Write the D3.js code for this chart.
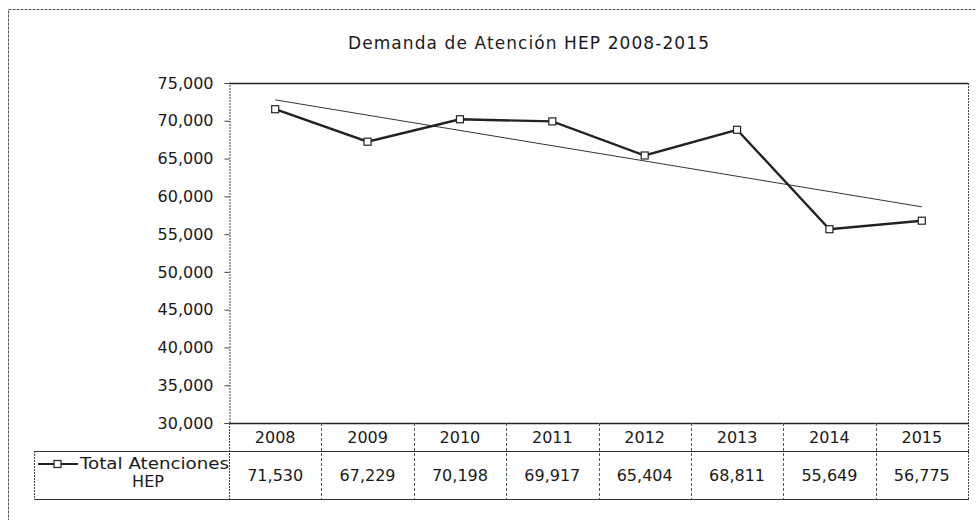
<!DOCTYPE html>
<html>
<head>
<meta charset="utf-8">
<script src="https://cdn.jsdelivr.net/npm/d3@7"></script>
<style>
	body { margin: 0; background: #fff; }
	svg text { font-family: "DejaVu Sans", "Open Sans", sans-serif; fill: #1a1a1a; }
</style>
</head>
<body>
<svg id="chart" width="976" height="520"></svg>
<script>
'use strict';

// data
var years = ['2008', '2009', '2010', '2011', '2012', '2013', '2014', '2015'],
	totals = [71530, 67229, 70198, 69917, 65404, 68811, 55649, 56775],
	yTicks = [30000, 35000, 40000, 45000, 50000, 55000, 60000, 65000, 70000, 75000],
	seriesName = ['Total Atenciones', 'HEP'],
	title = 'Demanda de Atención HEP 2008-2015';

var svg = d3.select('#chart'),
	plot = { left: 229, right: 968, top: 83, bottom: 423 },
	rowHead = 451,
	rowEnd = 499,
	legendLeft = 34,
	fmt = d3.format(',');

var x = d3.scaleBand().domain(years).range([plot.left, plot.right]),
	y = d3.scaleLinear().domain([30000, 75000]).range([plot.bottom, plot.top]);

function cx(d) { return x(d) + x.bandwidth() / 2; }

// outer frame
svg.append('rect')
	.attr('x', 8.5).attr('y', 9.5)
	.attr('width', 980).attr('height', 530)
	.attr('fill', 'none').attr('stroke', '#555').attr('stroke-width', 1)
	.attr('stroke-dasharray', '3,1');

// title
svg.append('text')
	.attr('x', 348).attr('y', 49)
	.attr('textLength', 361)
	.attr('lengthAdjust', 'spacing')
	.style('font-size', '17px')
	.text(title);

// plot area frame
svg.append('line')
	.attr('x1', plot.left).attr('x2', plot.right)
	.attr('y1', plot.top + 0.5).attr('y2', plot.top + 0.5)
	.attr('stroke', '#222').attr('stroke-width', 1.5);
svg.append('line')
	.attr('x1', plot.right + 0.5).attr('x2', plot.right + 0.5)
	.attr('y1', plot.top).attr('y2', rowEnd)
	.attr('stroke', '#444').attr('stroke-dasharray', '2,1');

// y axis
var yAxis = d3.axisLeft(y).tickValues(yTicks).tickSize(5).tickPadding(11).tickFormat(fmt);
var gy = svg.append('g')
	.attr('transform', 'translate(' + (plot.left + 0.5) + ',0)')
	.call(yAxis);
gy.select('.domain').attr('stroke', '#444').attr('stroke-dasharray', '2,1');
gy.selectAll('.tick line').attr('stroke', '#444');
gy.selectAll('.tick text')
	.style('font-family', '"DejaVu Sans", sans-serif')
	.style('font-size', '16px')
	.attr('fill', '#1a1a1a');

// data table
svg.append('line')
	.attr('x1', plot.left).attr('x2', plot.right + 1)
	.attr('y1', plot.bottom + 0.5).attr('y2', plot.bottom + 0.5)
	.attr('stroke', '#222').attr('stroke-width', 1.5);
svg.append('line')
	.attr('x1', legendLeft).attr('x2', plot.right + 1)
	.attr('y1', rowHead + 0.5).attr('y2', rowHead + 0.5)
	.attr('stroke', '#333').attr('stroke-width', 1.2);
svg.append('line')
	.attr('x1', legendLeft).attr('x2', plot.right + 1)
	.attr('y1', rowEnd + 0.5).attr('y2', rowEnd + 0.5)
	.attr('stroke', '#333').attr('stroke-width', 1.2);
svg.append('line')
	.attr('x1', legendLeft + 0.5).attr('x2', legendLeft + 0.5)
	.attr('y1', rowHead).attr('y2', rowEnd)
	.attr('stroke', '#444').attr('stroke-dasharray', '2,1');
svg.append('line')
	.attr('x1', plot.left + 0.5).attr('x2', plot.left + 0.5)
	.attr('y1', plot.bottom).attr('y2', rowEnd)
	.attr('stroke', '#444').attr('stroke-dasharray', '2,1');

svg.selectAll('.col-div')
	.data(years.slice(1))
	.enter().append('line')
	.attr('class', 'col-div')
	.attr('x1', function(d) { return Math.round(x(d)) + 0.5; })
	.attr('x2', function(d) { return Math.round(x(d)) + 0.5; })
	.attr('y1', plot.bottom).attr('y2', rowEnd)
	.attr('stroke', '#555').attr('stroke-dasharray', '3,2');

svg.selectAll('.year-label')
	.data(years)
	.enter().append('text')
	.attr('class', 'year-label')
	.attr('x', cx)
	.attr('y', (plot.bottom + rowHead) / 2 + 6)
	.attr('text-anchor', 'middle')
	.style('font-size', '16px')
	.text(function(d) { return d; });

svg.selectAll('.value-label')
	.data(totals)
	.enter().append('text')
	.attr('class', 'value-label')
	.attr('x', function(d, i) { return cx(years[i]); })
	.attr('y', (rowHead + rowEnd) / 2 + 6)
	.attr('text-anchor', 'middle')
	.style('font-size', '16px')
	.text(function(d) { return fmt(d); });

// legend key in table
svg.append('line')
	.attr('x1', legendLeft + 4).attr('x2', legendLeft + 44)
	.attr('y1', 464).attr('y2', 464)
	.attr('stroke', '#222').attr('stroke-width', 2);
svg.append('rect')
	.attr('x', legendLeft + 20).attr('y', 460.5)
	.attr('width', 7).attr('height', 7)
	.attr('fill', '#fff').attr('stroke', '#222').attr('stroke-width', 1.2);
svg.append('text')
	.attr('x', legendLeft + 46).attr('y', 469)
	.attr('textLength', 149)
	.attr('lengthAdjust', 'spacingAndGlyphs')
	.style('font-size', '16px')
	.text(seriesName[0]);
svg.append('text')
	.attr('x', legendLeft + 114).attr('y', 487)
	.attr('text-anchor', 'middle')
	.style('font-size', '16px')
	.text(seriesName[1]);

// linear trend
var n = totals.length,
	mx = d3.mean(totals, function(d, i) { return i; }),
	my = d3.mean(totals),
	sxy = d3.sum(totals, function(d, i) { return (i - mx) * (d - my); }),
	sxx = d3.sum(totals, function(d, i) { return (i - mx) * (i - mx); }),
	slope = sxy / sxx,
	icpt = my - slope * mx;

svg.append('line')
	.attr('x1', cx(years[0])).attr('y1', y(icpt))
	.attr('x2', cx(years[n - 1])).attr('y2', y(icpt + slope * (n - 1)))
	.attr('stroke', '#333').attr('stroke-width', 1);

// main series
var line = d3.line()
	.x(function(d, i) { return cx(years[i]); })
	.y(function(d) { return y(d); });

svg.append('path')
	.datum(totals)
	.attr('d', line)
	.attr('fill', 'none')
	.attr('stroke', '#222')
	.attr('stroke-width', 2.4);

svg.selectAll('.marker')
	.data(totals)
	.enter().append('rect')
	.attr('class', 'marker')
	.attr('x', function(d, i) { return cx(years[i]) - 3.5; })
	.attr('y', function(d) { return y(d) - 3.5; })
	.attr('width', 7).attr('height', 7)
	.attr('fill', '#fff').attr('stroke', '#222').attr('stroke-width', 1.2);
</script>
</body>
</html>
